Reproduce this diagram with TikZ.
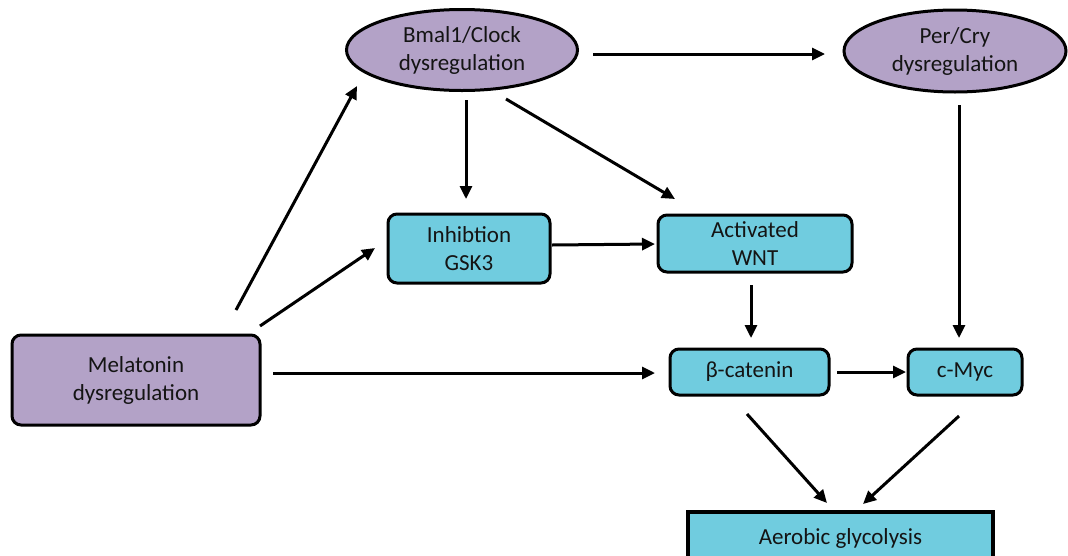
\documentclass[tikz,border=0pt]{standalone}
\usepackage{fontspec}
\setmainfont{Carlito}
\usetikzlibrary{arrows.meta,shapes.geometric,calc}
\definecolor{lilac}{HTML}{B3A2C7}
\definecolor{aqua}{HTML}{70CCDF}
\definecolor{ink}{HTML}{141414}
\begin{document}
\begin{tikzpicture}[x=1pt,y=-1pt,
  txt/.style={font=\fontsize{23}{28}\selectfont, text=ink, align=center},
  oval/.style={ellipse, draw=black, line width=3pt, fill=lilac, inner sep=0pt, outer sep=0pt, txt},
  pbox/.style={rectangle, rounded corners=9pt, draw=black, line width=3pt, fill=lilac, inner sep=0pt, outer sep=0pt, txt},
  bbox/.style={pbox, fill=aqua},
  arr/.style={line width=3pt, draw=black, -{Triangle[length=13pt,width=12pt]}}]
\useasboundingbox (0,0) rectangle (1068,555);
\clip (0,0) rectangle (1068,555);
\fill[white] (0,0) rectangle (1068,555);

\node[pbox, minimum width=248pt, minimum height=90pt] (mel) at (136,380) {Melatonin\\dysregulation};
\node[oval, minimum width=231pt, minimum height=81pt] (bmal) at (462,50) {Bmal1/Clock\\dysregulation};
\node[oval, minimum width=222pt, minimum height=82pt] (per) at (955,51) {Per/Cry\\dysregulation};
\node[bbox, minimum width=162pt, minimum height=69pt] (gsk) at (469,248.5) {Inhibtion\\GSK3};
\node[bbox, minimum width=194pt, minimum height=57pt] (wnt) at (755,243.5) {Activated\\WNT};
\node[bbox, minimum width=159pt, minimum height=46pt] (bcat) at (749.5,372) {β-catenin};
\node[bbox, minimum width=114pt, minimum height=46pt] (myc) at (965,372) {c-Myc};
\node[bbox, rounded corners=0pt, line width=4pt, minimum width=305pt, minimum height=56pt] (aer) at (840.5,540) {\raisebox{7pt}{Aerobic glycolysis}};

\draw[arr] ($(mel.north east)+(-24,-25)$) -- ($(bmal.center)+(-105,36)$);
\draw[arr] ($(mel.north east)+(0,-9)$) -- ($(gsk.west)+(-13,-0.5)$);
\draw[arr] ($(mel.east)+(13,-7)$) -- ($(bcat.west)+(-15,1)$);
\draw[arr] ($(bmal.south)+(4,9.5)$) -- ($(gsk.north)+(-3,-15)$);
\draw[arr] ($(bmal.south)+(44,8.5)$) -- ($(wnt.north west)+(17,-16)$);
\draw[arr] ($(bmal.east)+(15.5,4)$) -- ($(per.west)+(-19,3)$);
\draw[arr] ($(gsk.east)+(2,-3.5)$) -- ($(wnt.west)+(-3,0.5)$);
\draw[arr] ($(wnt.south)+(-4,13)$) -- ($(bcat.north)+(1.5,-11)$);
\draw[arr] ($(per.south)+(4,13)$) -- ($(myc.north)+(-6,-11)$);
\draw[arr] ($(bcat.east)+(8,0)$) -- ($(myc.west)+(-2,0)$);
\draw[arr] ($(bcat.south)+(-2.5,19)$) -- ($(aer.north)+(-13.5,-9)$);
\draw[arr] ($(myc.south)+(-6,21)$) -- ($(aer.north)+(22.5,-8)$);
\end{tikzpicture}
\end{document}
